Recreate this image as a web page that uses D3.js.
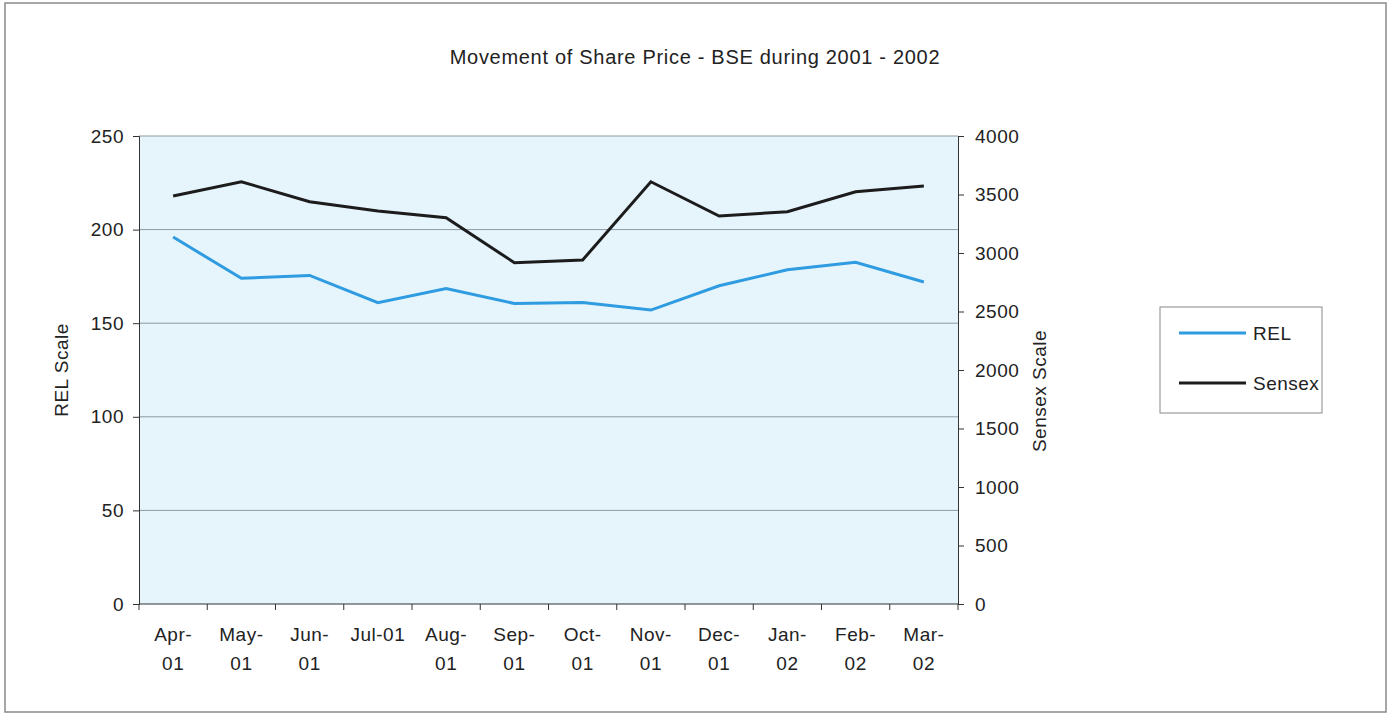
<!DOCTYPE html>
<html>
<head>
<meta charset="utf-8">
<script src="https://cdn.jsdelivr.net/npm/d3@7"></script>
<style>
  body { margin: 0; background: #fff; }
  text { font-family: "Liberation Sans", Arial, sans-serif; fill: #222; letter-spacing: 0.5px; }
</style>
</head>
<body>
<div id="chart"></div>
<script>
// month labels, split in two lines like the original
let months = ["Apr-01", "May-01", "Jun-01", "Jul-01", "Aug-01", "Sep-01",
              "Oct-01", "Nov-01", "Dec-01", "Jan-02", "Feb-02", "Mar-02"];
let relValues = [196, 174, 175.5, 161, 168.5, 160.5, 161, 157, 170, 178.5, 182.5, 172];
let sensexValues = [3487, 3609, 3438, 3359, 3302, 2917, 2940, 3609, 3316, 3353, 3524, 3573];
let relTicks = [0, 50, 100, 150, 200, 250];
let sensexTicks = [0, 500, 1000, 1500, 2000, 2500, 3000, 3500, 4000];
let seriesNames = ["REL", "Sensex"];

let width = 1391, height = 713;
let margin = {top: 136, right: 433, bottom: 109, left: 139};
let innerW = width - margin.left - margin.right;
let innerH = height - margin.top - margin.bottom;
let fontSize = "19px";

let svg = d3.select("#chart").append("svg")
  .attr("width", width)
  .attr("height", height);

// outer frame
svg.append("rect")
  .attr("x", 5).attr("y", 3)
  .attr("width", 1381).attr("height", 709)
  .attr("fill", "none")
  .attr("stroke", "#8a8a8a")
  .attr("stroke-width", 1.5);

svg.append("text")
  .attr("x", 695).attr("y", 64)
  .attr("text-anchor", "middle")
  .style("font-size", "20px")
  .style("letter-spacing", "0.7px")
  .text("Movement of Share Price - BSE during 2001 - 2002");

let g = svg.append("g")
  .attr("transform", "translate(" + margin.left + "," + margin.top + ")");

let x = d3.scaleBand().domain(months).range([0, innerW]);
let yLeft = d3.scaleLinear().domain([0, 250]).range([innerH, 0]);
let yRight = d3.scaleLinear().domain([0, 4000]).range([innerH, 0]);

// plot background
g.append("rect")
  .attr("width", innerW).attr("height", innerH)
  .attr("fill", "#e6f5fc");

// gridlines
g.selectAll(".grid")
  .data(relTicks.filter(d => d > 0))
  .join("line")
  .attr("x1", 0).attr("x2", innerW)
  .attr("y1", d => yLeft(d)).attr("y2", d => yLeft(d))
  .attr("stroke", "#8c9ba3")
  .attr("stroke-width", 1);

// left axis
let leftAxis = g.append("g")
  .call(d3.axisLeft(yLeft).tickValues(relTicks).tickSize(6).tickPadding(9));
leftAxis.selectAll("text").style("font-size", fontSize).attr("fill", "#222");

// right axis
let rightAxis = g.append("g")
  .attr("transform", "translate(" + innerW + ",0)")
  .call(d3.axisRight(yRight).tickValues(sensexTicks).tickFormat(d3.format("d"))
    .tickSize(6).tickPadding(11));
rightAxis.selectAll("text").style("font-size", fontSize).attr("fill", "#222");

// bottom axis, ticks between categories
let bottomAxis = g.append("g")
  .attr("transform", "translate(0," + innerH + ")")
  .call(d3.axisBottom(x).tickSize(0).tickPadding(24));
bottomAxis.select(".domain").remove();
bottomAxis.selectAll("text").style("font-size", fontSize).attr("fill", "#222")
  .each(function (d) {
    let t = d3.select(this);
    t.text(null);
    if (d === "Jul-01") {
      t.append("tspan").attr("x", 0).attr("dy", "0.71em").text(d);
    } else {
      let parts = d.split("-");
      t.append("tspan").attr("x", 0).attr("dy", "0.71em").text(parts[0] + "-");
      t.append("tspan").attr("x", 0).attr("dy", "1.5em").text(parts[1]);
    }
  });
let bandEdges = months.map(m => x(m)).concat([innerW]);
g.append("g").selectAll("line")
  .data(bandEdges)
  .join("line")
  .attr("x1", d => d).attr("x2", d => d)
  .attr("y1", innerH).attr("y2", innerH + 6)
  .attr("stroke", "#333");
g.append("line")
  .attr("x1", 0).attr("x2", innerW)
  .attr("y1", innerH).attr("y2", innerH)
  .attr("stroke", "#333");

g.selectAll(".domain").attr("stroke", "#333");
g.selectAll(".tick line").attr("stroke", "#333");

// axis titles
svg.append("text")
  .attr("transform", "translate(68," + (margin.top + innerH / 2) + ") rotate(-90)")
  .attr("text-anchor", "middle")
  .style("font-size", fontSize)
  .text("REL Scale");
svg.append("text")
  .attr("transform", "translate(1046," + (margin.top + innerH / 2 + 21) + ") rotate(-90)")
  .attr("text-anchor", "middle")
  .style("font-size", fontSize)
  .text("Sensex Scale");

// lines
let relLine = d3.line()
  .x((d, i) => x(months[i]) + x.bandwidth() / 2)
  .y(d => yLeft(d));
let sensexLine = d3.line()
  .x((d, i) => x(months[i]) + x.bandwidth() / 2)
  .y(d => yRight(d));

g.append("path")
  .datum(sensexValues)
  .attr("d", sensexLine)
  .attr("fill", "none")
  .attr("stroke", "#1c1c1c")
  .attr("stroke-width", 3);
g.append("path")
  .datum(relValues)
  .attr("d", relLine)
  .attr("fill", "none")
  .attr("stroke", "#2f9be0")
  .attr("stroke-width", 3);

// legend
let legend = svg.append("g").attr("transform", "translate(1160,307)");
legend.append("rect")
  .attr("width", 162).attr("height", 106)
  .attr("fill", "#fff")
  .attr("stroke", "#888");
let legendColors = ["#2f9be0", "#1c1c1c"];
let items = legend.selectAll(".item")
  .data(seriesNames)
  .join("g")
  .attr("transform", (d, i) => "translate(0," + (26 + i * 50) + ")");
items.append("line")
  .attr("x1", 19).attr("x2", 86)
  .attr("stroke", (d, i) => legendColors[i])
  .attr("stroke-width", 3);
items.append("text")
  .attr("x", 93).attr("dy", "0.35em")
  .style("font-size", fontSize)
  .text(d => d);
</script>
</body>
</html>
